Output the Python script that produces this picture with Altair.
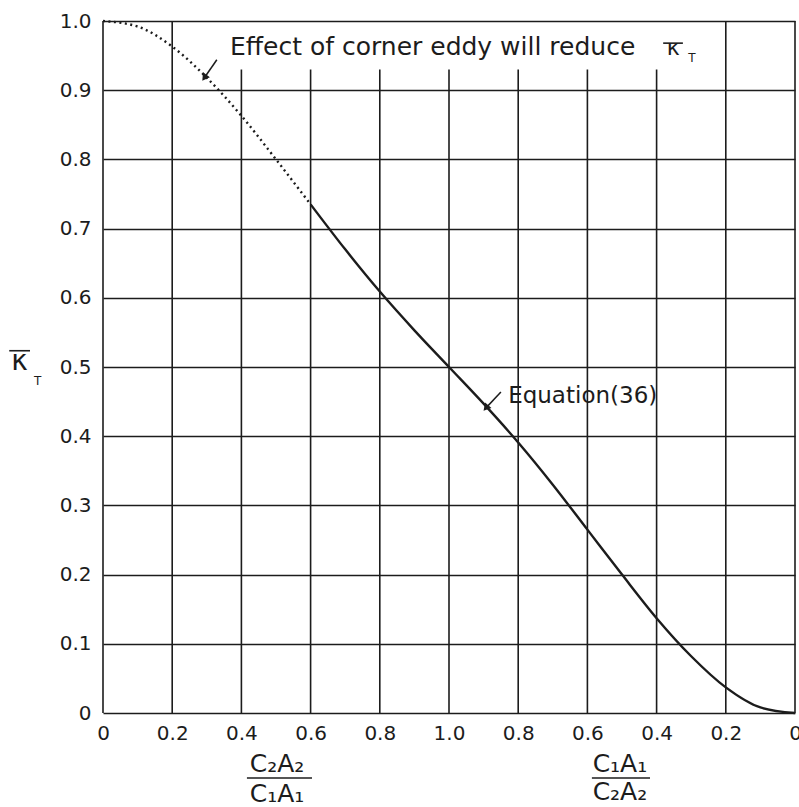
import altair as alt
import pandas as pd

# ---- data ----
x_pos = [0.0, 0.1, 0.2, 0.3, 0.4, 0.5, 0.6, 0.7, 0.8, 0.9, 1.0,
         1.1, 1.2, 1.3, 1.4, 1.5, 1.6, 1.7, 1.8, 1.9, 2.0]
k_vals = [1.0, 0.992, 0.963, 0.918, 0.863, 0.8, 0.735, 0.67, 0.609, 0.553, 0.5,
          0.447, 0.391, 0.33, 0.265, 0.2, 0.137, 0.082, 0.037, 0.008, 0.0]

x_ticks = [0.0, 0.2, 0.4, 0.6, 0.8, 1.0, 1.2, 1.4, 1.6, 1.8, 2.0]
grid_top = [1.0, 1.0, 0.93, 0.93, 0.93, 0.93, 0.93, 0.93, 0.93, 1.0, 1.0]
y_ticks = [0.0, 0.1, 0.2, 0.3, 0.4, 0.5, 0.6, 0.7, 0.8, 0.9, 1.0]

INK = "#1c1c1c"
FONT = "DejaVu Sans"

sx = alt.Scale(domain=[0, 2], nice=False, zero=False)
sy = alt.Scale(domain=[0, 1], nice=False, zero=False)

curve = pd.DataFrame({"x": x_pos, "k": k_vals})
grid = pd.DataFrame({"gx": x_ticks, "g0": [0.0] * len(x_ticks), "gtop": grid_top})

x_axis = alt.Axis(
    values=x_ticks, grid=False, domain=False, ticks=False, title=None,
    labelExpr="datum.value == 0 || datum.value == 2 ? '0' : format(datum.value <= 1 ? datum.value : 2 - datum.value, '.1f')",
    labelFontSize=20, labelFont=FONT, labelColor=INK, labelPadding=10, labelFlush=False,
    labelOverlap=False,
)
y_axis = alt.Axis(
    values=y_ticks, grid=True, gridColor=INK, gridWidth=1.6, gridOpacity=1,
    domain=False, ticks=False, title=None,
    labelExpr="datum.value == 0 ? '0' : format(datum.value, '.1f')",
    labelFontSize=20, labelFont=FONT, labelColor=INK, labelPadding=12, labelFlush=False,
    labelOverlap=False,
)


def X(field):
    return alt.X(field, scale=sx, axis=x_axis)


def Y(field):
    return alt.Y(field, scale=sy, axis=y_axis)


grid_layer = alt.Chart(grid).mark_rule(color=INK, strokeWidth=1.6).encode(
    x=X("gx:Q"), y=Y("g0:Q"), y2="gtop:Q",
)

dotted = alt.Chart(curve).transform_filter("datum.x <= 0.61").mark_line(
    color=INK, strokeWidth=2.4, strokeDash=[2, 3.5], interpolate="monotone"
).encode(x=X("x:Q"), y=Y("k:Q"))

solid = alt.Chart(curve).transform_filter("datum.x >= 0.59").mark_line(
    color=INK, strokeWidth=2.4, interpolate="monotone"
).encode(x=X("x:Q"), y=Y("k:Q"))

# ---- annotation text ----
texts = pd.DataFrame({
    "x": [0.367, 1.171],
    "y": [0.951, 0.448],
    "t": ["Effect of corner eddy will reduce", "Equation(36)"],
    "s": [25, 23],
})
text_layer = alt.Chart(texts).mark_text(
    align="left", baseline="alphabetic", font=FONT, color=INK
).encode(x=X("x:Q"), y=Y("y:Q"), text="t:N",
         size=alt.Size("s:Q", scale=None, legend=None))

kap = pd.DataFrame({"x": [1.648, -0.241], "y": [0.951, 0.496], "s": [22, 28]})
kap_layer = alt.Chart(kap).mark_text(
    align="center", baseline="alphabetic", font=FONT, color=INK, text="κ"
).encode(x=X("x:Q"), y=Y("y:Q"),
         size=alt.Size("s:Q", scale=None, legend=None))

sub = pd.DataFrame({"x": [1.702, -0.189], "y": [0.941, 0.474]})
sub_layer = alt.Chart(sub).mark_text(
    align="center", baseline="alphabetic", font=FONT, color=INK, fontSize=12, text="T"
).encode(x=X("x:Q"), y=Y("y:Q"))

# overbars and fraction bars
bars = pd.DataFrame({
    "x1": [1.619, -0.271, 0.416, 1.413],
    "x2": [1.676, -0.211, 0.604, 1.581],
    "y": [0.968, 0.5235, -0.094, -0.094],
})
bar_layer = alt.Chart(bars).mark_rule(color=INK, strokeWidth=1.6).encode(
    x=X("x1:Q"), x2="x2:Q", y=Y("y:Q")
)

frac = pd.DataFrame({
    "x": [0.503, 0.503, 1.494, 1.494],
    "y": [-0.085, -0.128, -0.085, -0.126],
    "t": ["C₂A₂", "C₁A₁", "C₁A₁", "C₂A₂"],
})
frac_layer = alt.Chart(frac).mark_text(
    align="center", baseline="alphabetic", fontSize=25, font=FONT, color=INK
).encode(x=X("x:Q"), y=Y("y:Q"), text="t:N")

# arrows
arrows = pd.DataFrame({
    "xa": [0.329, 1.150], "ya": [0.944, 0.464],
    "xb": [0.295, 1.109], "yb": [0.9195, 0.442],
    "ang": [215, 221],
})
arrow_lines = alt.Chart(arrows).mark_rule(color=INK, strokeWidth=1.5).encode(
    x=X("xa:Q"), x2="xb:Q", y=Y("ya:Q"), y2="yb:Q",
)
arrow_heads = alt.Chart(arrows).mark_point(
    shape="triangle", filled=True, color=INK, size=70, opacity=1
).encode(
    x=X("xb:Q"), y=Y("yb:Q"),
    angle=alt.Angle("ang:Q", scale=None),
)

chart = alt.layer(
    grid_layer, dotted, solid, text_layer, kap_layer, sub_layer, bar_layer,
    frac_layer, arrow_lines, arrow_heads
).properties(
    width=692, height=692,
    padding={"left": 103, "top": 21, "right": 4, "bottom": 94},
    autosize="none",
    background="white",
).configure_view(strokeWidth=0)

chart.save("out.html", embed_options={"renderer": "svg", "actions": False})
